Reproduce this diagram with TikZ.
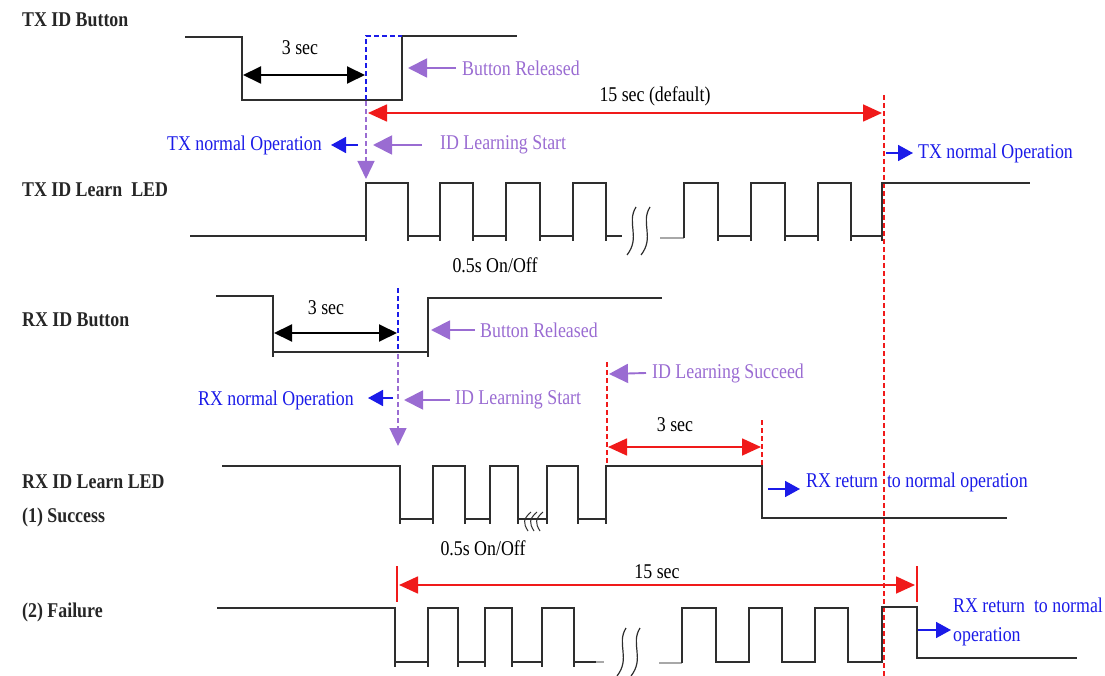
\documentclass[tikz,border=0pt]{standalone}
\usepackage{fontspec}
\setmainfont{Liberation Serif}[FakeStretch=0.85]
\usetikzlibrary{arrows.meta}
\definecolor{wire}{HTML}{2E2E2E}
\definecolor{lila}{HTML}{9A6CD2}
\definecolor{navy}{HTML}{1B1BE8}
\definecolor{alarm}{HTML}{F01A1A}
\definecolor{fade}{HTML}{A8A8A8}
\newcommand\squig[2]{\draw[wire,line width=1.2pt] ({#1+4},{#2}) .. controls ({#1-6},{#2+16}) and ({#1+9},{#2+30}) .. ({#1-5},{#2+48});}
\newcommand\brk[2]{\draw[wire,line width=1pt] ({#1+6},{#2-9}) .. controls ({#1-2},{#2-2}) and ({#1-2},{#2+2}) .. ({#1+3},{#2+10});}
\begin{document}
\begin{tikzpicture}[x=1pt,y=-1pt,
  wave/.style={draw=wire,line width=1.6pt,line join=miter},
  tick/.style={draw=wire,line width=1.2pt},
  lbl/.style={font=\fontsize{21}{23}\selectfont\bfseries,anchor=west,inner sep=0pt,text=black!85},
  txt/.style={font=\fontsize{21}{23}\selectfont,inner sep=0pt},
  bdash/.style={draw=navy,line width=1.3pt,dash pattern=on 5pt off 3pt},
  pdash/.style={draw=lila,line width=1.3pt,dash pattern=on 5pt off 3pt,-{Triangle[length=18pt,width=17pt]}},
  rdash/.style={draw=alarm,line width=1.2pt,dash pattern=on 5pt off 3pt},
  dimk/.style={draw=black,line width=1.9pt,{Triangle[length=18pt,width=17pt]}-{Triangle[length=18pt,width=17pt]}},
  dimr/.style={draw=alarm,fill=alarm,line width=1.7pt,{Triangle[length=19pt,width=17pt]}-{Triangle[length=19pt,width=17pt]}},
  parrow/.style={draw=lila,line width=1.9pt,-{Triangle[length=19pt,width=19pt]}},
  barrow/.style={draw=navy,line width=1.7pt,-{Triangle[length=15pt,width=16pt]}}]
\useasboundingbox (0,0) rectangle (1105,676);

% ---------- TX ID Button ----------
\node[lbl] (txbtn) at (22,20) {TX ID Button};
\draw[wave] (185,37) -- (242,37) -- (242,100) -- (402,100) -- (402,36) -- (517,36);
\draw[bdash] (366,100) -- (366,36) -- (402,36);
\coordinate (txstart) at (366,101);
\coordinate (txledup) at (366,179);
\draw[pdash] (txstart) -- (txledup);
\coordinate (d1a) at (243,75); \coordinate (d1b) at (365,75);
\draw[dimk] (d1a) -- (d1b);
\node[txt] (three1) at (300,48) {3 sec};
\node[txt,text=lila,anchor=west] (rel1) at (462,68) {Button Released};
\coordinate (rel1t) at (408,68);
\draw[parrow] ([xshift=-6pt]rel1.west) -- (rel1t);
\coordinate (r15a) at (368,113); \coordinate (r15b) at (882,113);
\draw[dimr] (r15a) -- (r15b);
\node[txt] (fifteen) at (655,96) {15 sec (default)};
\coordinate (endtop) at (884,95); \coordinate (endbot) at (884,676);
\draw[rdash] (endtop) -- (endbot);
\node[txt,text=navy,anchor=east] (txn1) at (322,145) {TX normal Operation};
\coordinate (txn1s) at (358,145);
\draw[barrow] (txn1s) -- ([xshift=9pt]txn1.east);
\node[txt,text=lila,anchor=west] (ils1) at (440,145) {ID Learning Start};
\coordinate (ils1t) at (373,145);
\draw[parrow] ([xshift=-18pt]ils1.west) -- (ils1t);
\node[txt,text=navy,anchor=west] (txn2) at (918,153) {TX normal Operation};
\coordinate (txn2s) at (886,153);
\draw[barrow] (txn2s) -- ([xshift=-5pt]txn2.west);

% ---------- TX ID Learn LED ----------
\node[lbl] (txled) at (22,190) {TX ID Learn\ \ LED};
\draw[wave] (190,236) -- (366,236) -- (366,183) -- (408,183) -- (408,236) -- (440,236) -- (440,183) -- (473,183) -- (473,236) -- (506,236) -- (506,183) -- (540,183) -- (540,236) -- (573,236) -- (573,183) -- (606,183) -- (606,236) -- (622,236);
\foreach \x in {366,408,440,473,506,540,573,606} \draw[tick] (\x,236) -- (\x,241);
\squig{632}{207}
\squig{646}{207}
\draw[fade,line width=1.6pt] (660,238) -- (684,238);
\draw[wave] (684,238) -- (684,183) -- (718,183) -- (718,236) -- (751,236) -- (751,183) -- (785,183) -- (785,236) -- (818,236) -- (818,183) -- (851,183) -- (851,236) -- (882,236) -- (882,183) -- (1030,183);
\foreach \x in {718,751,785,818,851,882} \draw[tick] (\x,236) -- (\x,241);
\node[txt] (onoff1) at (495,265) {0.5s On/Off};

% ---------- RX ID Button ----------
\node[lbl] (rxbtn) at (22,320) {RX ID Button};
\draw[wave] (216,296) -- (273,296) -- (273,352) -- (428,352) -- (428,298) -- (662,298);
\draw[tick] (273,352) -- (273,357); \draw[tick] (428,352) -- (428,357);
\draw[bdash] (398,288) -- (398,352);
\coordinate (rxstart) at (398,354);
\coordinate (rxledup) at (398,446);
\draw[pdash] (rxstart) -- (rxledup);
\coordinate (d2a) at (274,333); \coordinate (d2b) at (397,333);
\draw[dimk] (d2a) -- (d2b);
\node[txt] (three2) at (326,308) {3 sec};
\node[txt,text=lila,anchor=west] (rel2) at (480,330) {Button Released};
\coordinate (rel2t) at (431,330);
\draw[parrow] ([xshift=-5pt]rel2.west) -- (rel2t);
\node[txt,text=navy,anchor=east] (rxn1) at (354,400) {RX normal Operation};
\coordinate (rxn1s) at (393,398);
\draw[barrow] (rxn1s) -- ([xshift=14pt,yshift=2pt]rxn1.east);
\node[txt,text=lila,anchor=west] (ils2) at (455,400) {ID Learning Start};
\coordinate (ils2t) at (404,400);
\draw[parrow] ([xshift=-5pt]ils2.west) -- (ils2t);

% ID learning succeed
\coordinate (suctop) at (607,362); \coordinate (sucbot) at (607,466);
\draw[rdash] (suctop) -- (sucbot);
\node[txt,text=lila,anchor=west] (ils3) at (652,373) {ID Learning Succeed};
\coordinate (ils3t) at (609,374);
\draw[parrow] ([xshift=-6pt]ils3.west) -- (ils3t);
\coordinate (d3a) at (608,447); \coordinate (d3b) at (761,447);
\draw[dimr] (d3a) -- (d3b);
\node[txt] (three3) at (675,425) {3 sec};
\coordinate (okt) at (762,420); \coordinate (okb) at (762,466);
\draw[rdash] (okt) -- (okb);

% ---------- RX ID Learn LED (1) Success ----------
\node[lbl] (rxled) at (22,482) {RX ID Learn LED};
\node[lbl] (succ) at (22,517) {(1) Success};
\draw[wave] (222,466) -- (400,466) -- (400,519) -- (433,519) -- (433,466) -- (465,466) -- (465,519) -- (490,519) -- (490,466) -- (518,466) -- (518,519) -- (547,519) -- (547,466) -- (578,466) -- (578,519) -- (606,519) -- (606,466) -- (762,466) -- (762,518) -- (1007,518);
\foreach \x in {400,433,465,490,518,547,578,606} \draw[tick] (\x,519) -- (\x,524);
\brk{525}{521}
\brk{531}{521}
\brk{537}{521}
\node[txt] (onoff2) at (483,548) {0.5s On/Off};
\node[txt,text=navy,anchor=west] (rxr1) at (806,482) {RX return\ \ to normal operation};
\coordinate (rxr1s) at (768,489);
\coordinate (rxr1t) at (800,489);
\draw[barrow] (rxr1s) -- (rxr1t);

% ---------- (2) Failure ----------
\node[lbl] (fail) at (22,612) {(2) Failure};
\coordinate (f15at) at (397,566); \coordinate (f15ab) at (397,602);
\draw[alarm,line width=1.2pt] (f15at) -- (f15ab);
\coordinate (f15bt) at (917,566); \coordinate (f15bb) at (917,602);
\draw[alarm,line width=1.2pt] (f15bt) -- (f15bb);
\coordinate (d4a) at (399,585); \coordinate (d4b) at (915,585);
\draw[dimr] (d4a) -- (d4b);
\node[txt] (fifteen2) at (657,572) {15 sec};
\draw[wave] (217,608) -- (395,608) -- (395,662) -- (428,662) -- (428,608) -- (458,608) -- (458,662) -- (485,662) -- (485,608) -- (512,608) -- (512,662) -- (542,662) -- (542,608) -- (574,608) -- (574,662) -- (596,662);
\draw[fade,line width=1.6pt] (596,662) -- (604,662);
\foreach \x in {395,428,458,485,512,542,574} \draw[tick] (\x,662) -- (\x,667);
\squig{622}{628}
\squig{636}{628}
\draw[fade,line width=1.6pt] (659,663) -- (682,663);
\draw[wave] (682,663) -- (682,608) -- (716,608) -- (716,662) -- (749,662) -- (749,608) -- (782,608) -- (782,662) -- (815,662) -- (815,608) -- (848,608) -- (848,662) -- (882,662) -- (882,607) -- (917,607) -- (917,658) -- (1077,658);
\node[txt,text=navy,anchor=west] (rxr2) at (953,605) {RX return\ \ to normal};
\node[txt,text=navy,anchor=west] (rxr3) at (953,637) {operation};
\coordinate (rxr2s) at (918,630);
\coordinate (rxr2t) at (951,630);
\draw[barrow] (rxr2s) -- (rxr2t);
\end{tikzpicture}
\end{document}
